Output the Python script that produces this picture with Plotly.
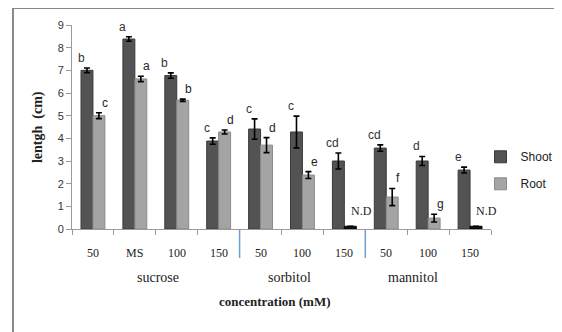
import plotly.graph_objects as go

# ---- data ----
categories = ["50", "MS", "100", "150", "50", "100", "150", "50", "100", "150"]
groups = ["sucrose", "sorbitol", "mannitol"]
shoot = [7.0, 8.38, 6.77, 3.88, 4.41, 4.28, 3.0, 3.57, 3.0, 2.6]
shoot_err = [0.1, 0.1, 0.12, 0.14, 0.45, 0.7, 0.35, 0.14, 0.2, 0.13]
root = [5.0, 6.62, 5.68, 4.28, 3.7, 2.38, 0.12, 1.41, 0.48, 0.12]
root_err = [0.13, 0.12, 0.05, 0.09, 0.33, 0.15, 0.0, 0.38, 0.17, 0.0]
shoot_labels = ["b", "a", "b", "c", "c", "c", "cd", "cd", "d", "e"]
root_labels = ["c", "a", "b", "d", "d", "e", "N.D", "f", "g", "N.D"]

xs = list(range(len(categories)))
SERIF = "Liberation Serif, Times New Roman, serif"
SANS = "Liberation Sans, Arial, sans-serif"

root_colors = ["#111111" if lab == "N.D" else "#a4a4a4" for lab in root_labels]
root_lines = ["#000000" if lab == "N.D" else "#8a8a8a" for lab in root_labels]

fig = go.Figure()
fig.add_trace(go.Bar(
    x=xs, y=shoot, name="Shoot", legendgroup="s",
    marker=dict(color="#535353", line=dict(color="#3a3a3a", width=1)),
    error_y=dict(type="data", array=shoot_err, color="black", thickness=1.6, width=3),
))
fig.add_trace(go.Bar(
    x=xs, y=root, name="Root", legendgroup="r",
    marker=dict(color=root_colors, line=dict(color=root_lines, width=1)),
    error_y=dict(type="data", array=root_err, color="black", thickness=1.6, width=3),
))

annotations = []
# letters above bars
bw = 0.285  # offset of each bar centre from category centre (in category units)
for i in xs:
    annotations.append(dict(x=i - bw, y=shoot[i] + shoot_err[i], xref="x", yref="y",
                            text=shoot_labels[i], showarrow=False, yanchor="middle",
                            yshift=10, font=dict(family=SANS, size=12, color="#333")))
    nd = root_labels[i] == "N.D"
    annotations.append(dict(x=i + bw, y=root[i] + root_err[i], xref="x", yref="y",
                            text=root_labels[i], showarrow=False, yanchor="middle",
                            yshift=15 if nd else 10, xshift=5 if nd else 0,
                            font=dict(family=SERIF if nd else SANS, size=12, color="#222")))
# category labels
for i, c in enumerate(categories):
    annotations.append(dict(x=i, y=-0.1176, xref="x", yref="paper", text=c, showarrow=False,
                            yanchor="middle", font=dict(family=SERIF, size=12, color="#222")))
# group labels
group_x = [1.55, 4.7, 7.65]
for gx, g in zip(group_x, groups):
    annotations.append(dict(x=gx, y=-0.24, xref="x", yref="paper", text=g, showarrow=False,
                            yanchor="middle", font=dict(family=SERIF, size=14, color="#222")))
# axis titles
annotations.append(dict(x=0.484, y=-0.353, xref="paper", yref="paper",
                        text="<b>concentration (mM)</b>", showarrow=False, yanchor="middle",
                        font=dict(family=SERIF, size=13, color="#222")))
annotations.append(dict(x=-0.081, y=0.5, xref="paper", yref="paper",
                        text="<b>lentgh  (cm)</b>", showarrow=False, textangle=-90,
                        xanchor="center", yanchor="middle",
                        font=dict(family=SERIF, size=14, color="#222")))

shapes = [
    # group separators
    dict(type="line", xref="x", yref="paper", x0=3.5, x1=3.5, y0=0, y1=-0.142,
         line=dict(color="#6f9fd8", width=1.5)),
    dict(type="line", xref="x", yref="paper", x0=6.5, x1=6.5, y0=0, y1=-0.142,
         line=dict(color="#6f9fd8", width=1.5)),
    # outer frame (top and left visible)
    dict(type="line", xref="paper", yref="paper", x0=-0.1408, x1=1.3, y0=1.0833, y1=1.0833,
         line=dict(color="#888888", width=2)),
    dict(type="line", xref="paper", yref="paper", x0=-0.1408, x1=-0.1408, y0=1.0833, y1=-0.7,
         line=dict(color="#888888", width=2)),
]

fig.update_layout(
    width=554, height=324,
    margin=dict(l=64, r=71, t=17, b=103, autoexpand=False),
    paper_bgcolor="white", plot_bgcolor="white",
    barmode="group", bargap=0.43, bargroupgap=0.0,
    showlegend=True,
    legend=dict(x=0.975, y=0.425, xanchor="left", yanchor="top",
                font=dict(family=SANS, size=12, color="#222"),
                traceorder="grouped", tracegroupgap=8, itemwidth=30,
                bgcolor="rgba(0,0,0,0)"),
    xaxis=dict(range=[-0.5, 9.5], tickvals=[k - 0.5 for k in range(11)],
               showticklabels=False, ticks="outside", ticklen=5, tickcolor="#9a9a9a",
               showline=True, linecolor="#9a9a9a", linewidth=1, showgrid=False,
               zeroline=False),
    yaxis=dict(range=[0, 9], dtick=1, ticks="outside", ticklen=5, tickcolor="#9a9a9a",
               showline=True, linecolor="#9a9a9a", linewidth=1, showgrid=False,
               zeroline=False, tickfont=dict(family=SANS, size=11, color="#333")),
    annotations=annotations,
    shapes=shapes,
)

fig.write_html("out.html")
